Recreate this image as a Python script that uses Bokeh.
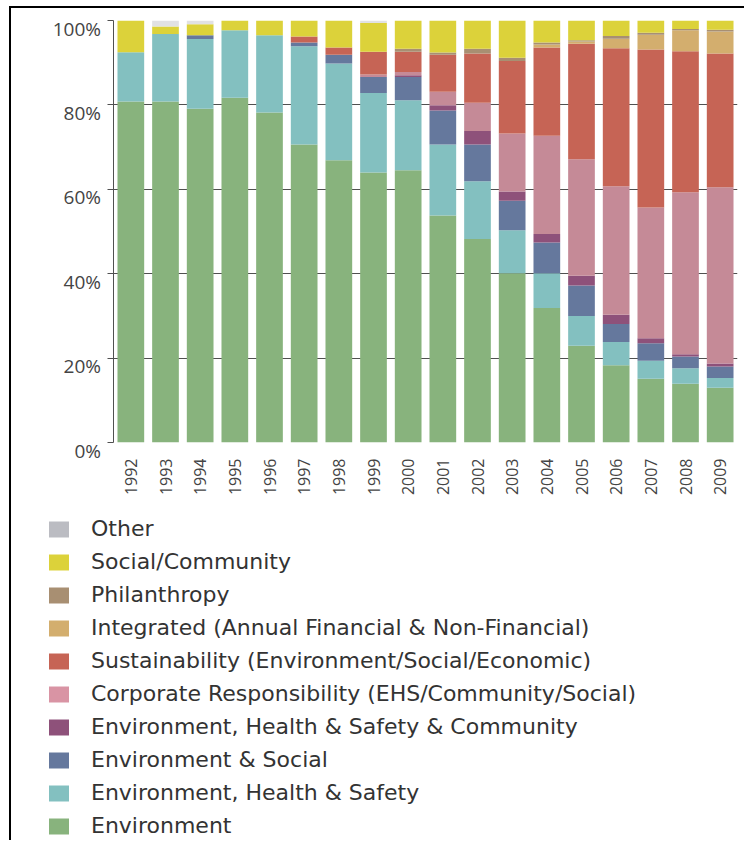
import math
from bokeh.plotting import figure
from bokeh.models import FactorRange, Range1d, FixedTicker, Legend, LegendItem, ColumnDataSource
from bokeh.core.properties import value
from bokeh.layouts import column, row
from bokeh.embed import file_html
from bokeh.resources import INLINE

years = ["1992", "1993", "1994", "1995", "1996", "1997", "1998", "1999", "2000",
         "2001", "2002", "2003", "2004", "2005", "2006", "2007", "2008", "2009"]

environment = [80.8, 80.8, 79.1, 81.7, 78.2, 70.6, 66.9, 64.0, 64.5, 53.8, 48.2, 40.1, 31.9, 22.9, 18.3, 15.1, 13.9, 13.0]
ehs = [11.7, 16.0, 16.5, 16.0, 18.3, 23.3, 22.9, 18.8, 16.6, 16.8, 13.7, 10.2, 8.2, 7.1, 5.5, 4.3, 3.7, 2.3]
env_social = [0, 0, 0.9, 0, 0, 0.9, 2.1, 3.8, 5.5, 8.1, 8.7, 7.0, 7.3, 7.2, 4.3, 4.1, 2.8, 2.7]
ehs_community = [0, 0, 0, 0, 0, 0, 0, 0, 0.4, 1.2, 3.2, 2.2, 2.0, 2.3, 2.2, 1.2, 0.5, 0.7]
corp_resp = [0, 0, 0, 0, 0, 0, 0, 0.6, 0.8, 3.2, 6.7, 13.7, 23.3, 27.6, 30.4, 31.0, 38.4, 41.8]
sustainability = [0, 0, 0, 0, 0, 1.4, 1.7, 5.4, 4.8, 8.8, 11.7, 17.2, 20.9, 27.4, 32.7, 37.4, 33.4, 31.7]
integrated = [0, 0, 0, 0, 0, 0, 0, 0, 0, 0, 0, 0, 0.7, 0.5, 2.3, 3.5, 5.0, 5.2]
philanthropy = [0, 0, 0, 0, 0, 0, 0, 0, 0.7, 0.5, 1.1, 0.8, 0.5, 0.3, 0.6, 0.5, 0.3, 0.4]
social_community = [7.5, 1.8, 2.6, 2.3, 3.5, 3.8, 6.4, 6.8, 6.7, 7.6, 6.7, 8.8, 5.2, 4.7, 3.7, 2.9, 2.0, 2.2]
other = [0, 1.4, 0.9, 0, 0, 0, 0, 0.6, 0, 0, 0, 0, 0, 0, 0, 0, 0, 0]

series_keys = ["environment", "ehs", "env_social", "ehs_community", "corp_resp",
               "sustainability", "integrated", "philanthropy", "social_community", "other"]
series_labels = ["Environment", "Environment, Health & Safety", "Environment & Social",
                 "Environment, Health & Safety & Community",
                 "Corporate Responsibility (EHS/Community/Social)",
                 "Sustainability (Environment/Social/Economic)",
                 "Integrated (Annual Financial & Non-Financial)",
                 "Philanthropy", "Social/Community", "Other"]
bar_colors = ["#88B37D", "#83C0C0", "#65789D", "#8E517A", "#C58A97",
              "#C66455", "#D3AE6E", "#A88F72", "#DCD23A", "#E1E1E3"]
legend_colors = ["#88B37D", "#83C0C0", "#65789D", "#8E517A", "#D994A4",
                 "#C66455", "#D3AE6E", "#A88F72", "#DCD23A", "#BBBCC2"]

y_ticks = [0, 20, 40, 60, 80, 100]
y_tick_labels = ["0%", "20%", "40%", "60%", "80%", "100%"]

# layout constants (pixels)
FRAME_W, FRAME_H = 624, 422
TOP, BOTTOM = 12, 58
FIG_H = TOP + FRAME_H + BOTTOM
LAB_W = 90

source = ColumnDataSource(dict(
    year=years, environment=environment, ehs=ehs, env_social=env_social,
    ehs_community=ehs_community, corp_resp=corp_resp, sustainability=sustainability,
    integrated=integrated, philanthropy=philanthropy,
    social_community=social_community, other=other))

p = figure(x_range=FactorRange(*years, range_padding=0), y_range=Range1d(0, 100),
           frame_width=FRAME_W, frame_height=FRAME_H, output_backend="svg", toolbar_location=None,
           min_border_left=12, min_border_right=6, min_border_top=TOP, min_border_bottom=BOTTOM)
p.frame_align = False
p.outline_line_color = None

p.vbar_stack(series_keys, x="year", width=0.77, fill_color=bar_colors, line_color=None,
             source=source)

p.xgrid.grid_line_color = None
p.ygrid.ticker = FixedTicker(ticks=y_ticks)
p.ygrid.grid_line_color = "#505050"
p.ygrid.grid_line_width = 1

p.yaxis.ticker = FixedTicker(ticks=y_ticks)
p.yaxis.major_label_overrides = {t: "" for t in y_ticks}
p.yaxis.major_label_standoff = 0
p.yaxis.axis_line_color = "#505050"
p.yaxis.major_tick_line_color = "#505050"
p.yaxis.major_tick_out = 6
p.yaxis.major_tick_in = 0
p.yaxis.minor_tick_line_color = None

p.xaxis.axis_line_color = None
p.xaxis.major_tick_line_color = None
p.xaxis.minor_tick_line_color = None
p.xaxis.major_label_orientation = math.pi / 2
p.xaxis.major_label_standoff = 10
p.xaxis.major_label_text_font = "Open Sans"
p.xaxis.major_label_text_font_size = "16px"
p.xaxis.major_label_text_color = "#444444"

# y tick label strip: same vertical scale as the chart, labels sit just below their ticks
px_per_unit = FRAME_H / 100.0
ylab = figure(width=LAB_W, height=FIG_H, output_backend="svg", toolbar_location=None,
              x_axis_type=None, y_axis_type=None,
              x_range=Range1d(0, LAB_W),
              y_range=Range1d(-(FRAME_H + BOTTOM) / px_per_unit + 100, 100 + TOP / px_per_unit),
              min_border_left=0, min_border_right=0, min_border_top=0, min_border_bottom=0)
ylab.frame_align = False
ylab.outline_line_color = None
ylab.xgrid.grid_line_color = None
ylab.ygrid.grid_line_color = None
ylab.text(x=[LAB_W - 0.5] * len(y_ticks), y=y_ticks, text=y_tick_labels,
          text_align="right", text_baseline="middle", y_offset=8,
          text_font=value("Open Sans"), text_font_size=value("19px"), text_color="#444444")

# legend panel
lp = figure(width=733, height=340, output_backend="svg", toolbar_location=None,
            x_axis_type=None, y_axis_type=None, x_range=Range1d(0, 1), y_range=Range1d(0, 1),
            min_border_left=35, min_border_top=16, min_border_right=0, min_border_bottom=0)
lp.frame_align = False
lp.outline_line_color = None
lp.xgrid.grid_line_color = None
lp.ygrid.grid_line_color = None
items = []
for label, col in zip(series_labels, legend_colors):
    r = lp.vbar(x=[0.5], top=[0], bottom=[0], width=0.1, fill_color=col, line_color=None)
    items.append(LegendItem(label=label, renderers=[r]))
items.reverse()
legend = Legend(items=items, location="top_left", orientation="vertical",
                glyph_width=25, glyph_height=20, label_standoff=20, spacing=8,
                padding=0, margin=0, border_line_color=None, background_fill_alpha=0,
                label_text_font="DejaVu Sans", label_text_font_size="22px",
                label_text_color="#333333", label_height=16)
lp.add_layout(legend)

layout = column(row(ylab, p, spacing=0), lp, spacing=0, margin=(6, 0, 0, 9),
                styles={"border-left": "2px solid black", "border-top": "2px solid black"})

open("out.html", "w").write(file_html(layout, INLINE))
